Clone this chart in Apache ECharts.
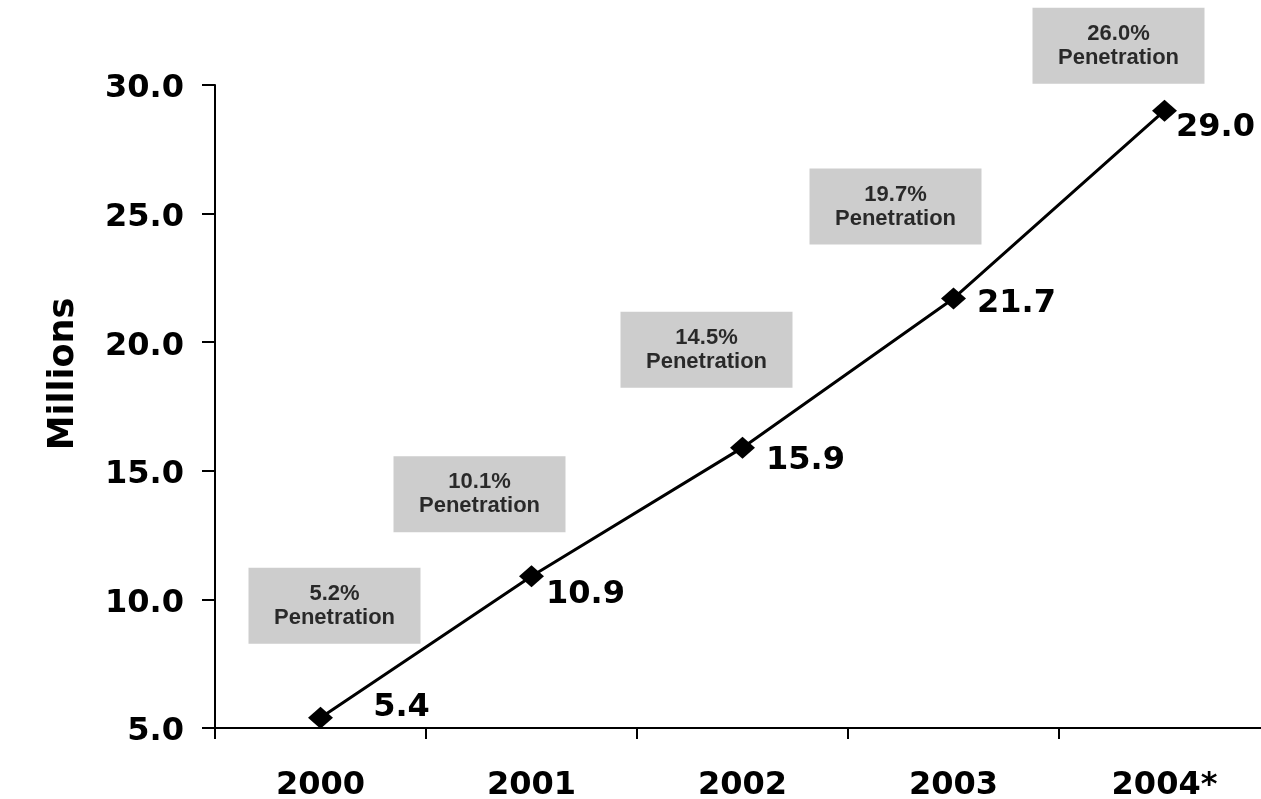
<!DOCTYPE html>
<html>
<head>
<meta charset="utf-8">
<title>Subscribers (Millions)</title>
<script src="https://cdn.jsdelivr.net/npm/echarts@6/dist/echarts.min.js"></script>
<style>
  html, body { margin: 0; padding: 0; background: #ffffff; }
  #chart { width: 1261px; height: 799px; }
</style>
</head>
<body>
<div id="chart"></div>
<script>
// Yearly figures
const categories = ['2000', '2001', '2002', '2003', '2004*'];
const subscribers = [5.4, 10.9, 15.9, 21.7, 29.0];
const penetration = ['5.2%', '10.1%', '14.5%', '19.7%', '26.0%'];

// Value axis range
const yMin = 5;
const yMax = 30;
const yStep = 5;

// Label placement relative to each point (pixels)
const valueLabelOffsets = [[81, -10], [54, 18], [63, 13], [63, 5], [51, 17]];
const boxOffsets = [[14, -112], [-52, -82], [-36, -98], [-58, -92], [-46, -65]];

const bigFont = 'DejaVu Sans';
const boxFont = '"Liberation Sans", Arial, sans-serif';

const chart = echarts.init(document.getElementById('chart'), null, { renderer: 'canvas' });

chart.setOption({
  animation: false,
  backgroundColor: '#ffffff',
  grid: {
    left: 215,
    right: -9,
    top: 85,
    bottom: 71,
    containLabel: false,
    outerBoundsMode: 'none'
  },
  xAxis: {
    type: 'category',
    data: categories,
    boundaryGap: true,
    axisLine: { show: true, lineStyle: { color: '#000', width: 2 } },
    axisTick: { show: true, length: 11, lineStyle: { color: '#000', width: 2 } },
    axisLabel: {
      margin: 42,
      color: '#000',
      fontFamily: bigFont,
      fontWeight: 'bold',
      fontSize: 32,
      lineHeight: 32
    },
    splitLine: { show: false }
  },
  yAxis: {
    type: 'value',
    min: yMin,
    max: yMax,
    interval: yStep,
    name: 'Millions',
    nameLocation: 'middle',
    nameRotate: 90,
    nameGap: 134,
    nameTextStyle: {
      color: '#000',
      fontFamily: bigFont,
      fontWeight: 'bold',
      fontSize: 35,
      lineHeight: 35,
      padding: [0, 0, 0, 65]
    },
    axisLine: { show: true, lineStyle: { color: '#000', width: 2 } },
    axisTick: { show: true, length: 13, lineStyle: { color: '#000', width: 2 } },
    axisLabel: {
      margin: 31,
      color: '#000',
      fontFamily: bigFont,
      fontWeight: 'bold',
      fontSize: 32,
      verticalAlign: 'top',
      lineHeight: 8,
      formatter: v => v.toFixed(1)
    },
    splitLine: { show: false }
  },
  series: [
    {
      type: 'line',
      data: subscribers.map((v, i) => ({ value: v, label: { offset: valueLabelOffsets[i] } })),
      symbol: 'diamond',
      symbolSize: [25, 22],
      showAllSymbol: true,
      lineStyle: { color: '#000', width: 3 },
      itemStyle: { color: '#000', borderWidth: 0 },
      label: {
        show: true,
        position: 'inside',
        formatter: p => p.value.toFixed(1),
        color: '#000',
        fontFamily: bigFont,
        fontWeight: 'bold',
        fontSize: 32
      },
      emphasis: { disabled: true },
      z: 3
    },
    {
      type: 'scatter',
      data: subscribers.map((v, i) => ({ value: v, label: { offset: boxOffsets[i] } })),
      symbol: 'rect',
      symbolSize: 1,
      itemStyle: { color: 'rgba(0,0,0,0)' },
      silent: true,
      label: {
        show: true,
        position: 'inside',
        formatter: p => penetration[p.dataIndex] + '\nPenetration',
        backgroundColor: '#c0c0c0',
        width: 172,
        padding: [14, 0],
        lineHeight: 24,
        align: 'center',
        verticalAlign: 'middle',
        color: '#000',
        fontFamily: boxFont,
        fontWeight: 'bold',
        fontSize: 22
      },
      emphasis: { disabled: true },
      z: 2
    }
  ]
});
</script>
</body>
</html>
